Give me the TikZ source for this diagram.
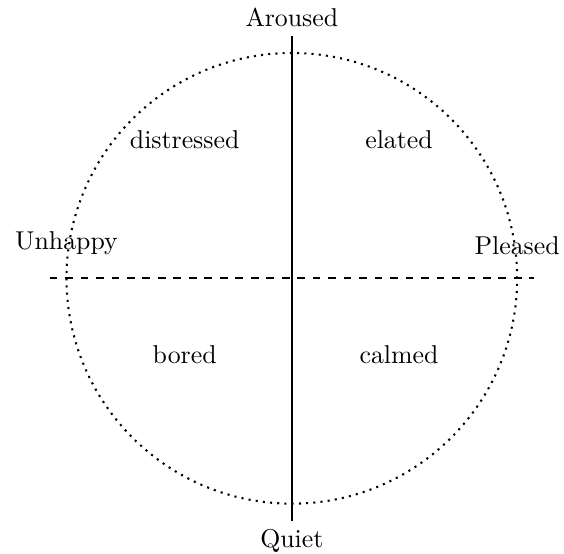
\documentclass[tikz,border=0pt]{standalone}
\usepackage{xcolor}
\usepackage{tikz}
\usetikzlibrary{positioning}

\begin{document}
\begin{tikzpicture}[
    font=\normalsize,
    axis/.style={thick},
    wheel/.style={thick, dotted},
    split/.style={thick, dashed},
    mood/.style={inner sep=2pt, align=center}
  ]
    \useasboundingbox (-3.976,-3.743) rectangle (3.708,3.792);
    \coordinate (c) at (0,0);
    \coordinate (top) at (0,3.3);
    \coordinate (bot) at (0,-3.3);
    \coordinate (lft) at (-3.3,0);
    \coordinate (rgt) at (3.3,0);
    \draw[wheel] (c) circle (3.07);
    \draw[axis] (bot) -- (top);
    \draw[split] (lft) -- (rgt);
    \node[above] (ar) at (top) {Aroused};
    \node[below] (qu) at (bot) {Quiet};
    \node[above] (un) at (-3.07,0.19) {Unhappy};
    \node[above] (pl) at (3.07,0.19) {Pleased};
    \node[mood] (di) at (-1.46,1.894) {distressed};
    \node[mood] (el) at (1.46,1.894) {elated};
    \node[mood] (bo) at (-1.46,-1.035) {bored};
    \node[mood] (ca) at (1.46,-1.035) {calmed};
  \end{tikzpicture}
\end{document}
